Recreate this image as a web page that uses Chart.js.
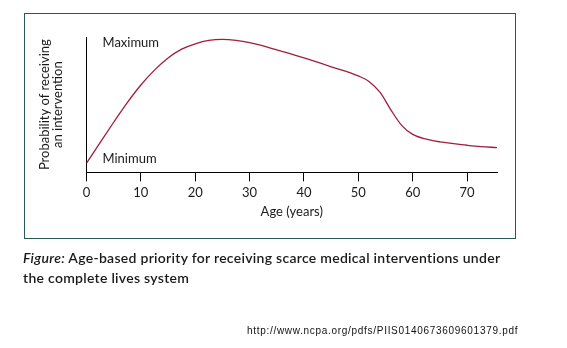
<!DOCTYPE html>
<html>
<head>
<meta charset="utf-8">
<script src="https://cdn.jsdelivr.net/npm/chart.js@4.4.1/dist/chart.umd.min.js"></script>
<style>
  html, body { margin: 0; padding: 0; background: #fff; }
  body { width: 567px; height: 348px; position: relative; overflow: hidden; }
  #frame { position: absolute; left: 24px; top: 13px; width: 492px; height: 226px; border: 1px solid #2b5a50; box-sizing: border-box; }
  #wrap { position: absolute; left: 0; top: 0; width: 567px; height: 348px; }
  #caption { position: absolute; left: 23px; top: 248px; width: 540px; font-family: Lato, "Open Sans", sans-serif; font-size: 14px; font-weight: 600; line-height: 20px; color: #1a1a1a; letter-spacing: 0.28px; white-space: nowrap; }
  #caption i { font-style: italic; }
  #url { position: absolute; left: 247px; top: 325px; font-family: "Liberation Sans", Arial, sans-serif; font-size: 10px; letter-spacing: 0.7px; color: #111; white-space: nowrap; }
</style>
</head>
<body>
<div id="frame"></div>
<div id="wrap"><canvas id="c" width="567" height="348"></canvas></div>
<div id="caption"><i>Figure:</i> Age-based priority for receiving scarce medical interventions under<br>the complete lives system</div>
<div id="url">http://www.ncpa.org/pdfs/PIIS0140673609601379.pdf</div>
<script>
// Data
const ages = [0, 2.5, 5, 7.5, 10, 12.5, 15, 17.5, 20, 22.5, 25, 27.5, 30, 35, 40, 45, 50, 52, 54, 56, 58, 60, 62.5, 65, 67.5, 70, 72.5, 75.5];
const priority = [6.7, 22, 37, 51.5, 64.5, 75.5, 84.5, 91, 95, 97.5, 98.2, 97.5, 95.8, 90.5, 84.5, 78, 71.2, 67, 59, 46, 34.5, 28, 24.5, 22.5, 21.2, 20, 19, 18.3];
const xTickValues = [0, 10, 20, 30, 40, 50, 60, 70];
const yTickValues = [9.8, 95.6];
const yTickLabels = ['Minimum', 'Maximum'];
const xTitle = 'Age (years)';
const yTitle = ['Probability of receiving', 'an intervention'];

const points = ages.map((a, i) => ({ x: a, y: priority[i] }));
const txt = '#1a1a1a';

new Chart(document.getElementById('c'), {
  type: 'line',
  data: {
    datasets: [{
      data: points,
      borderColor: '#a01d3c',
      borderWidth: 1.3,
      pointRadius: 0,
      cubicInterpolationMode: 'monotone',
      fill: false
    }]
  },
  options: {
    responsive: false,
    animation: false,
    events: [],
    layout: { padding: { left: 0, right: 70, top: 37, bottom: 115.7 } },
    plugins: { legend: { display: false }, tooltip: { enabled: false } },
    scales: {
      x: {
        type: 'linear',
        min: 0,
        max: 75.5,
        afterFit: s => { s.height = 60; },
        afterBuildTicks: s => { s.ticks = xTickValues.map(v => ({ value: v })); },
        grid: { drawOnChartArea: false, drawTicks: true, tickLength: 9, color: '#000', lineWidth: 1 },
        border: { display: true, color: '#000', width: 1 },
        ticks: { color: txt, padding: 4, maxRotation: 0, font: { family: 'Lato', size: 13 } },
        title: { display: true, text: xTitle, color: txt, font: { family: 'Lato', size: 13 }, padding: { top: 0, bottom: 13 } }
      },
      y: {
        type: 'linear',
        min: 0,
        max: 100,
        afterFit: s => { s.width = 86.5; },
        afterBuildTicks: s => { s.ticks = yTickValues.map(v => ({ value: v })); },
        grid: { display: false, drawTicks: false },
        border: { display: true, color: '#000', width: 1 },
        ticks: {
          mirror: true,
          padding: 16,
          color: txt,
          font: { family: 'Lato', size: 13 },
          callback: (v, i) => yTickLabels[i]
        },
        title: { display: true, text: yTitle, color: txt, font: { family: 'Lato', size: 13, lineHeight: 1.0 }, padding: { top: 38, bottom: 0 } }
      }
    }
  }
});
</script>
</body>
</html>
